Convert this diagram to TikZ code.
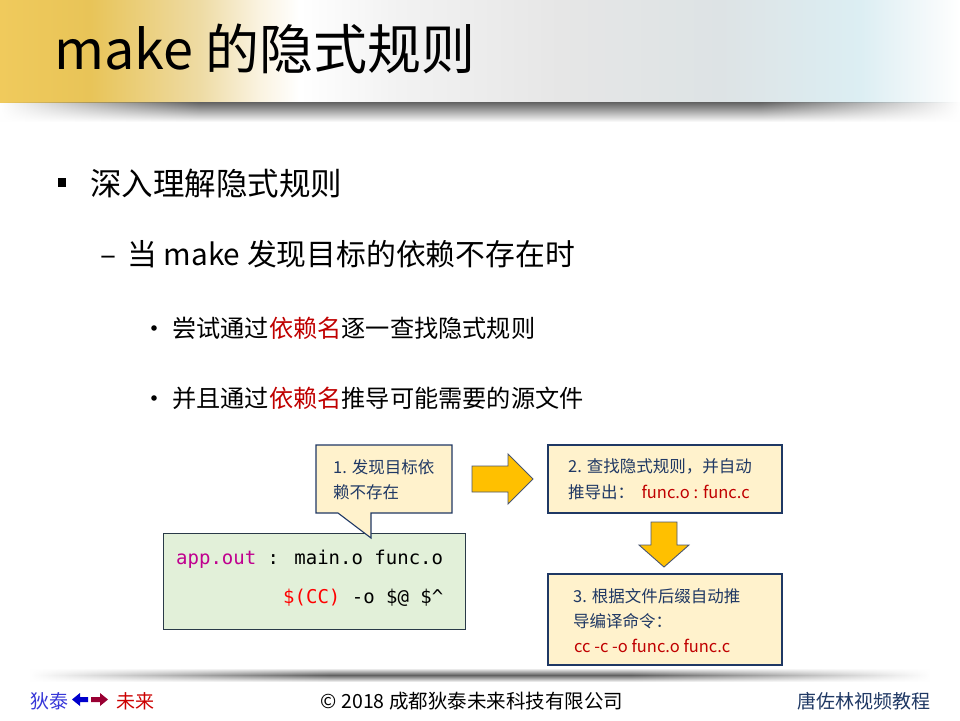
\documentclass[tikz,border=0pt]{standalone}
\usepackage{fontspec}
\setmainfont{Noto Sans CJK SC}
\newfontfamily\codefont{DejaVu Sans Mono}
\usetikzlibrary{fadings}

% palette
\definecolor{navy}{HTML}{1F3864}
\definecolor{notefill}{HTML}{FFF2CC}
\definecolor{codefill}{HTML}{E2F0D9}
\definecolor{codeline}{HTML}{2A3A48}
\definecolor{arrowfill}{HTML}{FFC000}
\definecolor{arrowline}{HTML}{4A5670}
\definecolor{keyred}{HTML}{C00000}
\definecolor{codemag}{HTML}{C0008F}
\definecolor{codered}{HTML}{FF0000}
\definecolor{ftblue}{HTML}{3636D8}
\definecolor{ftarrowblue}{HTML}{0000CC}
\definecolor{ftarrowred}{HTML}{990033}
\definecolor{ftred}{HTML}{CC0000}
% title banner colours, left to right
\definecolor{bnA}{HTML}{F0CA5C}
\definecolor{bnB}{HTML}{E8C458}
\definecolor{bnC}{HTML}{EEDBA4}
\definecolor{bnD}{HTML}{FAF3E0}
\definecolor{bnE}{HTML}{F2F2F2}
\definecolor{bnF}{HTML}{E6E6E6}
\definecolor{bnG}{HTML}{DDE3E5}
\definecolor{bnH}{HTML}{DCEEF3}
\definecolor{bnI}{HTML}{F6FAFB}

\pgfdeclarehorizontalshading{banner}{100bp}{%
  color(0bp)=(bnA); color(25bp)=(bnA); color(29.7bp)=(bnB);
  color(35.4bp)=(bnC); color(38.5bp)=(bnD); color(40.6bp)=(white);
  color(45.8bp)=(bnE); color(54.2bp)=(bnF); color(62.5bp)=(bnG);
  color(69.8bp)=(bnH); color(73.7bp)=(bnI); color(75bp)=(white);
  color(100bp)=(white)}

\tikzfading[name=fadeleft, left color=transparent!100, right color=transparent!0]
\tikzfading[name=faderight, left color=transparent!0, right color=transparent!100]

\tikzset{
  txt/.style={inner sep=0pt, anchor=base west},
  notebox/.style={draw=navy, fill=notefill, line width=1.1pt, inner sep=0pt},
  notetext/.style={txt, text=navy, font=\fontsize{16.5}{16.5}\selectfont},
  blockarrow/.style={fill=arrowfill, draw=arrowline, line width=0.9pt, line join=miter},
  codetext/.style={txt, font=\codefont\fontsize{19}{19}\selectfont},
  foot/.style={txt, font=\fontsize{19}{19}\selectfont},
  footband/.style={top color=white, bottom color=white, middle color=black!62},
}

\begin{document}
\begin{tikzpicture}[x=1pt, y=-1pt]
\useasboundingbox (0,0) rectangle (960,720);
\fill[white] (0,0) rectangle (960,720);

% title banner and its shadow
\shade[shading=banner] (0,0) rectangle (960,102);
\shade[top color=black!62, bottom color=white, path fading=fadeleft] (0,102) rectangle (200,122);
\shade[top color=black!62, bottom color=white] (200,102) rectangle (760,122);
\shade[top color=black!62, bottom color=white, path fading=faderight] (760,102) rectangle (960,122);
\node[txt, font=\fontsize{54}{54}\selectfont] (title) at (54,69) {make 的隐式规则};

% bullet list
\fill (58,178) rectangle (66,187);
\node[txt, font=\fontsize{31.5}{31.5}\selectfont] (lvA) at (90,195) {深入理解隐式规则};
\node[txt, font=\fontsize{29.8}{29.8}\selectfont] (dash) at (100,265) {–};
\node[txt, font=\fontsize{29.8}{29.8}\selectfont] (lvB) at (127,265) {当 make 发现目标的依赖不存在时};
\fill (154,328) circle (2.8);
\node[txt, font=\fontsize{24.2}{24.2}\selectfont] (lvC) at (172,337) {尝试通过\textcolor{keyred}{依赖名}逐一查找隐式规则};
\fill (154,398) circle (2.8);
\node[txt, font=\fontsize{24.2}{24.2}\selectfont] (lvD) at (172,407) {并且通过\textcolor{keyred}{依赖名}推导可能需要的源文件};

% makefile rule
\node[draw=codeline, fill=codefill, line width=1pt, minimum width=302, minimum height=96, inner sep=0pt] (code) at (314,581) {};
\node[codetext] (codeA) at (176,564) {\textcolor{codemag}{app.out} : main.o func.o};
\node[codetext] (codeB) at (283,603) {\textcolor{codered}{\$(CC)} -o \$@ \$\^{}};

% step 1: callout pointing at the rule
\draw[notebox] (316,445) -- (452,445) -- (452,513) -- (371,513) -- (371,538) -- (338,513) -- (316,513) -- cycle;
\node[notetext] (noteA1) at (333,473.5) {1. 发现目标依};
\node[notetext] (noteA2) at (333,498.5) {赖不存在};

% step 2
\draw[blockarrow] (472,466) -- (508,466) -- (508,454) -- (533,479) -- (508,504) -- (508,492) -- (472,492) -- cycle;
\node[notebox, minimum width=234, minimum height=68] (stepB) at (665,479) {};
\node[notetext] (noteB1) at (568,472.5) {2. 查找隐式规则，并自动};
\node[notetext] (noteB2) at (568,498.5) {推导出：\ \ \textcolor{keyred}{func.o : func.c}};

% step 3
\draw[blockarrow] (651,522) -- (677,522) -- (677,545) -- (689,545) -- (664,567) -- (639,545) -- (651,545) -- cycle;
\node[notebox, minimum width=234, minimum height=91] (stepC) at (665,619.5) {};
\node[notetext] (noteC1) at (573,602.5) {3. 根据文件后缀自动推};
\node[notetext] (noteC2) at (573,627.5) {导编译命令：};
\node[notetext, text=keyred] (noteC3) at (574,652.5) {cc -c -o func.o func.c};

% footer rule
\shade[footband, path fading=fadeleft] (30,668) rectangle (330,682);
\shade[footband] (330,668) rectangle (630,682);
\shade[footband, path fading=faderight] (630,668) rectangle (930,682);

% footer
\node[foot, text=ftblue] (ftA) at (30,708) {狄泰};
\fill[ftarrowblue] (72,699.5) -- (80,693) -- (80,697) -- (88,697) -- (88,702) -- (80,702) -- (80,706) -- cycle;
\fill[ftarrowred] (108,699.5) -- (100,693) -- (100,697) -- (91,697) -- (91,702) -- (100,702) -- (100,706) -- cycle;
\node[foot, text=ftred] (ftB) at (116,708) {未来};
\node[inner sep=0pt, anchor=base, font=\fontsize{19.5}{19.5}\selectfont] (copy) at (472,708) {© 2018 成都狄泰未来科技有限公司};
\node[foot, text=navy] (ftC) at (797,708) {唐佐林视频教程};
\end{tikzpicture}
\end{document}
